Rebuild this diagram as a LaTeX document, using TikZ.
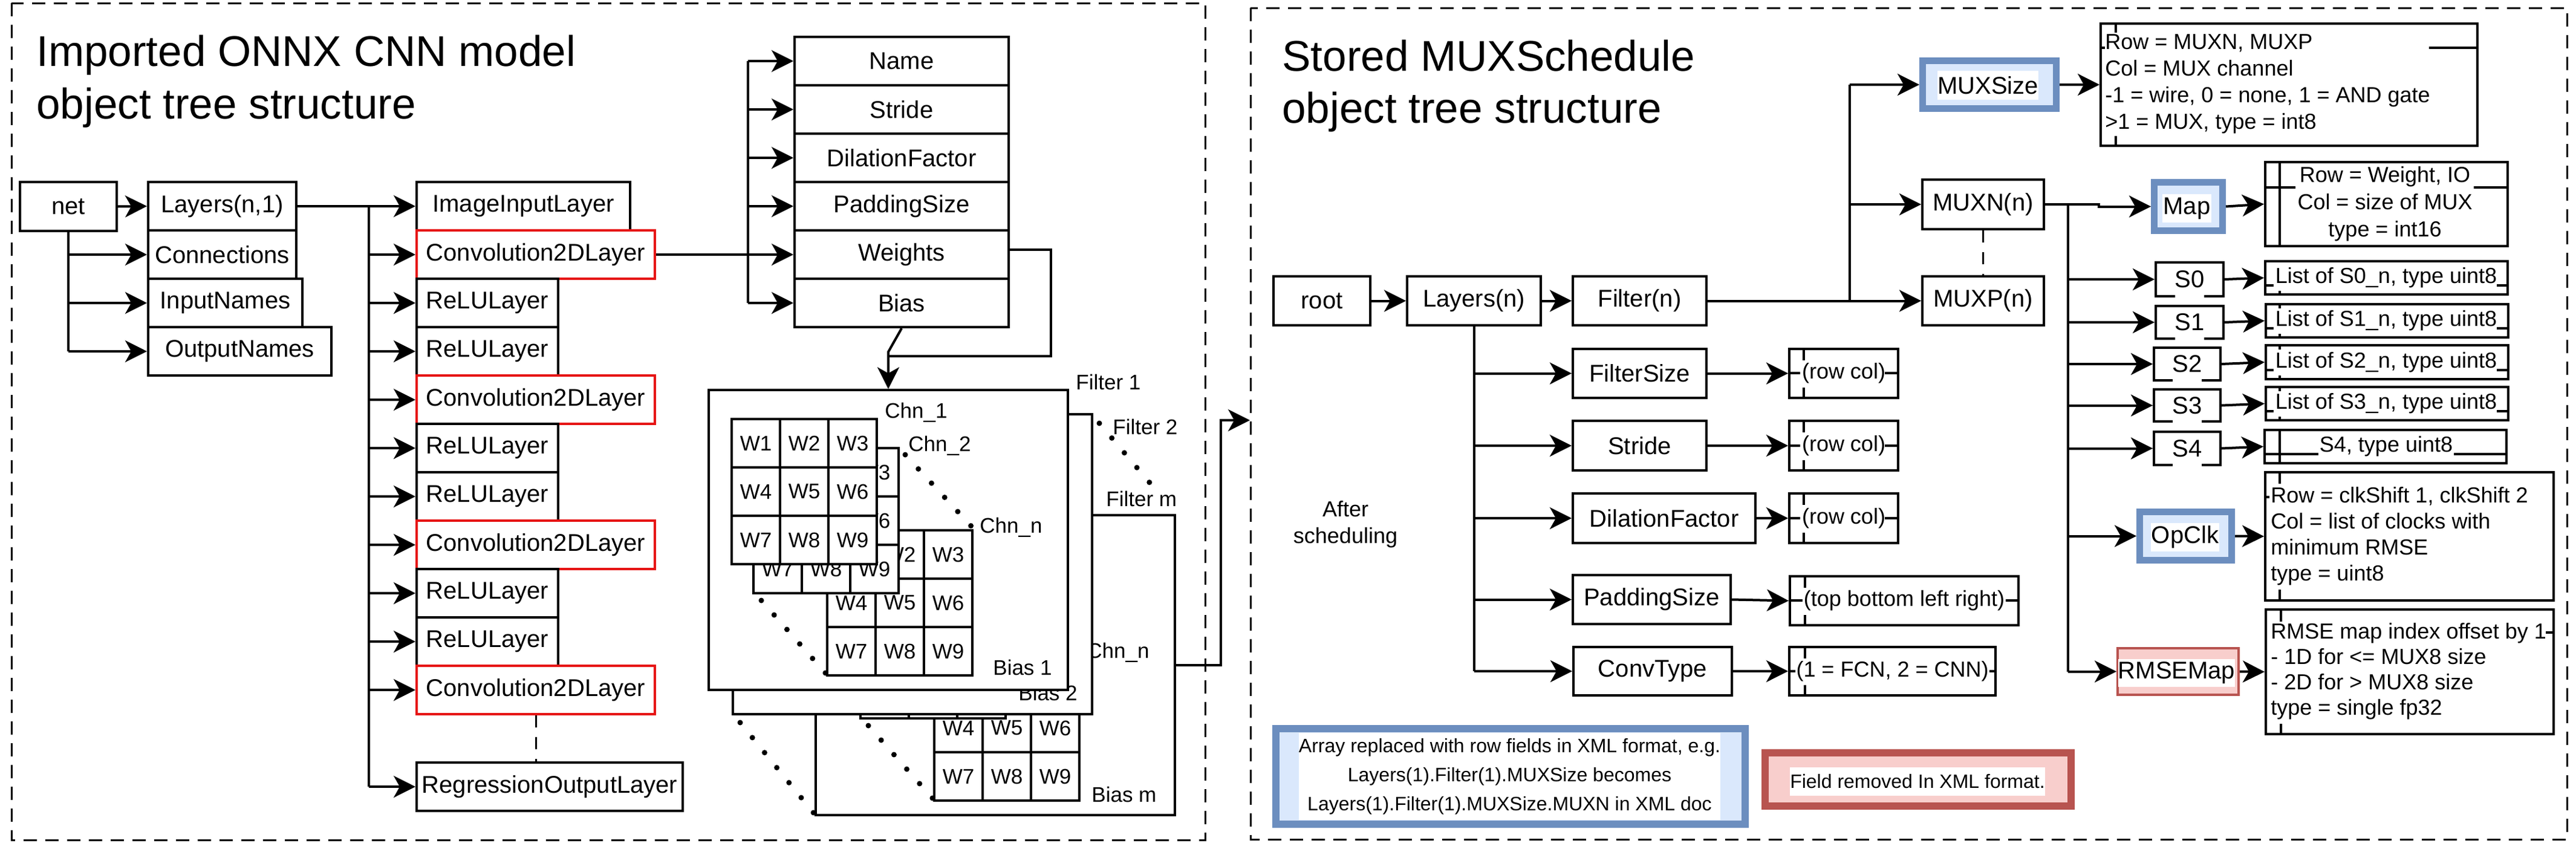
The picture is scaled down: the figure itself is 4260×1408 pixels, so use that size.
\documentclass[tikz,border=0pt]{standalone}
\usepackage{fontspec}
\setmainfont{Liberation Sans}
\usetikzlibrary{arrows.meta,calc}
\definecolor{convred}{RGB}{230,20,20}
\definecolor{bblue}{HTML}{6C8EBF}
\definecolor{lblue}{HTML}{DAE8FC}
\definecolor{rborder}{HTML}{B85450}
\definecolor{rfill}{HTML}{F8CECC}
\newcommand{\myfs}[2]{\fontsize{#1}{#2}\selectfont}
\newcommand{\bx}[7][]{%
  \pgfmathsetmacro\bxw{(#5-#3)*0.5}%
  \pgfmathsetmacro\bxh{(#6-#4)*0.5}%
  \node[box,#1,minimum width=\bxw pt,minimum height=\bxh pt] (#2) at ({(#3+#5)/2},{(#4+#6)/2}) {#7};}
\newcommand{\wgrid}[3]{%
  \foreach \r in {0,1,2}{%
    \foreach \c in {0,1,2}{%
      \pgfmathtruncatemacro{\wn}{3*\r+\c+1}%
      \node[cell] (#1\r\c) at ({#2+40+80*\c},{#3+40+80*\r}) {W\wn};
    }%
  }%
}
\newcommand{\filterbody}[3]{%
  \node[fbox] (box) at (297,248) {};
  \wgrid{gn}{196}{232}
  \wgrid{gb}{74}{96}
  \wgrid{ga}{38}{48}
  \node[lbl] (c1) at (291,37) {Chn\_1};
  \node[lbl] (c2) at (330,92) {Chn\_2};
  \node[lbl] (cn) at (448,227) {Chn\_n};
  \node[lbl] (bias) at (#2,#3) {#1};
  \draw[dots] (325,107) -- (434,225);
  \draw[dots] (87,348) -- (193,468);
}
\tikzset{
  box/.style={draw, line width=2pt, fill=white, inner sep=0pt, font=\myfs{20}{24}},
  redb/.style={draw=convred},
  fbox/.style={draw, line width=1.7pt, fill=white, inner sep=0pt, minimum width=297pt, minimum height=248pt},
  cell/.style={draw, line width=1.6pt, fill=white, inner sep=0pt, minimum size=40pt, font=\myfs{17.5}{21}},
  lbl/.style={inner sep=0pt, anchor=west, font=\myfs{17.5}{21}},
  txt/.style={inner sep=0pt, font=\myfs{18}{22}},
  conn/.style={line width=2pt},
  arr/.style={line width=2pt, -{Stealth[length=18pt,width=18pt,inset=5pt]}},
  dashbox/.style={line width=1.5pt, dash pattern=on 11pt off 7pt},
  dashln/.style={line width=1.5pt, dash pattern=on 10pt off 8pt},
  dots/.style={line width=4.5pt, line cap=round, dash pattern=on 0pt off 16pt},
  art/.style={line width=2pt},
  blueb/.style={draw=bblue, fill=lblue, line width=5.5pt, inner sep=0pt},
  redf/.style={draw=rborder, fill=rfill, inner sep=0pt},
  wtxt/.style={fill=white, inner sep=0pt, font=\myfs{20}{24}},
  ttl/.style={anchor=base west, inner sep=0pt, font=\myfs{35.5}{43}},
}
\begin{document}
\begin{tikzpicture}[x=0.5pt,y=-0.5pt]
\useasboundingbox (0,0) rectangle (4260,1408);
\fill[white] (0,0) rectangle (4260,1408);
\draw[dashbox] (19,5) rectangle (1993,1389);
\draw[dashbox] (2068,13) rectangle (4245,1388);

% titles
\node[ttl] (t1a) at (60,109) {Imported ONNX CNN model};
\node[ttl] (t1b) at (60,196) {object tree structure};
\node[ttl] (t2a) at (2120,117) {Stored MUXSchedule};
\node[ttl] (t2b) at (2120,203) {object tree structure};

% ---------- left panel ----------
\bx{net}{33}{301}{193}{382}{net}
\bx{layers}{245}{301}{490}{381}{Layers(n,1)}
\bx{conns}{245}{381}{490}{461}{Connections}
\bx{inames}{245}{461}{500}{541}{InputNames}
\bx{onames}{245}{541}{548}{621}{OutputNames}

\bx{L1}{689}{301}{1042}{381}{ImageInputLayer}
\bx[redb]{L2}{689}{381}{1083}{461}{Convolution2DLayer}
\bx{L3}{689}{461}{923}{541}{ReLULayer}
\bx{L4}{689}{541}{923}{621}{ReLULayer}
\bx[redb]{L5}{689}{621}{1083}{701}{Convolution2DLayer}
\bx{L6}{689}{701}{923}{781}{ReLULayer}
\bx{L7}{689}{781}{923}{861}{ReLULayer}
\bx[redb]{L8}{689}{861}{1083}{941}{Convolution2DLayer}
\bx{L9}{689}{941}{923}{1021}{ReLULayer}
\bx{L10}{689}{1021}{923}{1101}{ReLULayer}
\bx[redb]{L11}{689}{1101}{1083}{1181}{Convolution2DLayer}
\bx{reg}{689}{1261}{1129}{1341}{RegressionOutputLayer}

\bx{fname}{1314}{61}{1668}{141}{Name}
\bx{fstride}{1314}{141}{1668}{221}{Stride}
\bx{fdil}{1314}{221}{1668}{301}{DilationFactor}
\bx{fpad}{1314}{301}{1668}{381}{PaddingSize}
\bx{fwts}{1314}{381}{1668}{461}{Weights}
\bx{fbias}{1314}{461}{1668}{541}{Bias}

\draw[arr] (net.east) -- (layers.west);
\coordinate (ntr) at (113,0);
\draw[conn] (net.south) -- (ntr |- onames.west);
\foreach \nA in {conns,inames,onames} \draw[arr] (ntr |- \nA.west) -- (\nA.west);

\coordinate (ltr) at (610,0);
\draw[arr] (layers.east) -- (L1.west);
\draw[conn] (ltr |- L1.west) -- (ltr |- reg.west);
\foreach \nA in {L2,L3,L4,L5,L6,L7,L8,L9,L10,L11,reg} \draw[arr] (ltr |- \nA.west) -- (\nA.west);
\draw[dashln] (L11.south) -- (L11.south |- reg.north);

\coordinate (ftr) at (1237,0);
\draw[conn] (ftr |- fname.west) -- (ftr |- fbias.west);
\foreach \nA in {fname,fstride,fdil,fpad,fbias} \draw[arr] (ftr |- \nA.west) -- (\nA.west);
\draw[arr] (L2.east) -- (fwts.west);

% filters (back to front)
\begin{scope}[shift={(1349,852)}, name prefix=fm-]
  \filterbody{Bias m}{456}{462}
\end{scope}
\begin{scope}[shift={(1212,685)}, name prefix=f2-]
  \node[fbox] (box) at (297,248) {};
  \node[lbl] (bias) at (472,461) {Bias 2};
\end{scope}
\begin{scope}[shift={(1172,645)}, name prefix=f1-]
  \filterbody{Bias 1}{470}{459}
\end{scope}
\draw[dots] (1818,700) -- (1901,798);
\draw[dots] (1224,1195) -- (1346,1345);
\node[lbl] (lf1) at (1779,632) {Filter 1};
\node[lbl] (lf2) at (1840,706) {Filter 2};
\node[lbl] (lfm) at (1829,825) {Filter m};

\draw[conn] ($(fwts.east)+(0,-8)$) -| (1738,589) -- (1469,589);
\draw[arr] (fbias.south) -- (1469,582) -- (f1-box.north);
\coordinate (rpin) at (2067,695);
\draw[arr] (fm-box.east) -- (2019,1100) |- (rpin);

% ---------- right panel ----------
\bx{root}{2106}{457}{2266}{538}{root}
\bx{layersn}{2327}{457}{2548}{538}{Layers(n)}
\bx{filtern}{2601}{457}{2822}{538}{Filter(n)}
\bx{filtersize}{2601}{577}{2822}{658}{FilterSize}
\bx{stride}{2601}{696}{2822}{778}{Stride}
\bx{dilation}{2601}{816}{2903}{898}{DilationFactor}
\bx{padding}{2601}{951}{2862}{1032}{PaddingSize}
\bx{convtype}{2602}{1070}{2864}{1150}{ConvType}

\bx{rc1}{2959}{577}{3139}{658}{}
\bx{rc2}{2959}{696}{3139}{778}{}
\bx{rc3}{2959}{816}{3139}{898}{}
\bx{padd}{2960}{953}{3338}{1034}{}
\bx{convd}{2959}{1070}{3300}{1150}{}

\bx{muxn}{3179}{297}{3380}{379}{MUXN(n)}
\bx{muxp}{3179}{457}{3380}{538}{MUXP(n)}

\bx{s0}{3565}{434}{3677}{490}{S0}
\bx{s1}{3565}{506}{3677}{560}{S1}
\bx{s2}{3562}{575}{3672}{629}{S2}
\bx{s3}{3562}{644}{3672}{697}{S3}
\bx{s4}{3562}{714}{3672}{769}{S4}
\draw[white, line width=2.4pt] (3597,490) -- (3645,490);
\draw[white, line width=2.4pt] (3597,560) -- (3645,560);
\draw[white, line width=2.4pt] (3593,629) -- (3641,629);
\draw[white, line width=2.4pt] (3593,697) -- (3641,697);
\draw[white, line width=2.4pt] (3593,769) -- (3641,769);

\bx{muxsd}{3474}{39}{4097}{241}{}
\bx{mapd}{3746}{268}{4147}{407}{}
\bx{s0d}{3746}{432}{4147}{487}{}
\bx{s1d}{3747}{503}{4148}{558}{}
\bx{s2d}{3747}{571}{4148}{627}{}
\bx{s3d}{3747}{640}{4148}{695}{}
\bx{s4d}{3745}{711}{4145}{766}{}
\bx{opd}{3746}{781}{4223}{993}{}
\bx{rmsed}{3747}{1008}{4223}{1214}{}

% artefact lines inside the description boxes
\draw[art] (2983,577) -- (2983,596) (2983,641) -- (2983,658) (2959,617) -- (2977,617) (3117,617) -- (3139,617);
\draw[art] (2983,696) -- (2983,715) (2983,761) -- (2983,778) (2959,737) -- (2977,737) (3117,737) -- (3139,737);
\draw[art] (2983,816) -- (2983,835) (2983,881) -- (2983,898) (2959,857) -- (2977,857) (3117,857) -- (3139,857);
\draw[art] (2985,953) -- (2985,972) (2985,1017) -- (2985,1034) (2960,993) -- (2981,993) (3317,993) -- (3338,993);
\draw[art] (2985,1070) -- (2985,1089) (2985,1133) -- (2985,1150) (2959,1110) -- (2969,1110) (3290,1110) -- (3300,1110);
\draw[art] (3499,39) -- (3499,54) (3499,225) -- (3499,241) (3474,79) -- (3481,79) (4017,79) -- (4097,79);
\draw[art] (3770,268) -- (3770,407) (3746,310) -- (3796,310) (4091,310) -- (4147,310);
\draw[art] (3770,481) -- (3770,487) (3746,472) -- (3760,472) (4129,472) -- (4147,472);
\draw[art] (3770,503) -- (3770,510) (3770,552) -- (3770,558) (3747,543) -- (3760,543) (4129,543) -- (4148,543);
\draw[art] (3770,571) -- (3770,578) (3770,621) -- (3770,627) (3747,612) -- (3760,612) (4129,612) -- (4148,612);
\draw[art] (3770,640) -- (3770,647) (3770,689) -- (3770,695) (3747,680) -- (3760,680) (4129,680) -- (4148,680);
\draw[art] (3770,711) -- (3770,766) (3745,751) -- (3834,751) (4058,751) -- (4145,751);
\draw[art] (3770,781) -- (3770,800) (3770,975) -- (3770,993) (3746,822) -- (3753,822);
\draw[art] (3772,1008) -- (3772,1028) (3772,1197) -- (3772,1214) (4210,1046) -- (4223,1046);

% description texts
\node[txt] (rc1t) at (rc1) {(row col)};
\node[txt] (rc2t) at (rc2) {(row col)};
\node[txt] (rc3t) at (rc3) {(row col)};
\node[txt] (paddt) at (padd) {(top bottom left right)};
\node[txt] (convdt) at (convd) {(1 = FCN, 2 = CNN)};
\node[txt, anchor=west, align=left] (muxsdt) at (3481,139) {Row = MUXN, MUXP\\Col = MUX channel\\-1 = wire, 0 = none, 1 = AND gate\\>1 = MUX, type = int8};
\node[txt, align=center, font=\myfs{18}{22.5}] (mapdt) at (3944,337) {Row = Weight, IO\\Col = size of MUX\\type = int16};
\node[txt] (s0dt) at (3946,459) {List of S0\_n, type uint8};
\node[txt] (s1dt) at (3946,530) {List of S1\_n, type uint8};
\node[txt] (s2dt) at (3946,599) {List of S2\_n, type uint8};
\node[txt] (s3dt) at (3946,667) {List of S3\_n, type uint8};
\node[txt] (s4dt) at (3946,738) {S4, type uint8};
\node[txt, anchor=west, align=left, font=\myfs{18}{21.5}] (opdt) at (3755,887) {Row = clkShift 1, clkShift 2\\Col = list of clocks with\\minimum RMSE\\type = uint8};
\node[txt, anchor=west, align=left, font=\myfs{18}{21}] (rmsedt) at (3755,1110) {RMSE map index offset by 1\\- 1D for <= MUX8 size\\- 2D for > MUX8 size\\type = single fp32};

% coloured field boxes
\node[blueb, minimum width=110.5pt, minimum height=39.5pt] (muxsize) at (3290,140) {};
\node[wtxt, minimum width=82.5pt, minimum height=24pt] (muxsizet) at (3287.5,141) {MUXSize};
\node[blueb, minimum width=56.5pt, minimum height=40pt] (map) at (3619,341.5) {};
\node[wtxt, minimum width=40.5pt, minimum height=23.5pt] (mapt) at (3616.5,344.5) {Map};
\node[blueb, minimum width=76pt, minimum height=40pt] (opclk) at (3614.5,886.5) {};
\node[wtxt, minimum width=56.5pt, minimum height=23.5pt] (opclkt) at (3613.5,888.5) {OpClk};
\node[redf, line width=2pt, minimum width=100pt, minimum height=38.5pt] (rmse) at (3602,1110.5) {};
\node[wtxt, minimum width=96.5pt, minimum height=23pt] (rmset) at (3599.5,1113) {RMSEMap};

\node[txt, align=center] (after) at (2225,867) {After\\scheduling};

% legends
\node[blueb, line width=6pt, minimum width=388pt, minimum height=79pt] (legb) at (2498,1284) {};
\node[fill=white, inner sep=0pt, minimum width=348.5pt, minimum height=72pt, align=center, font=\myfs{16}{24}] (legbt) at (2496.5,1284) {Array replaced with row fields in XML format, e.g.\\Layers(1).Filter(1).MUXSize becomes\\Layers(1).Filter(1).MUXSize.MUXN in XML doc};
\node[redf, line width=6pt, minimum width=253pt, minimum height=44pt] (legr) at (3172,1289) {};
\node[fill=white, inner sep=0pt, minimum width=210pt, minimum height=23.5pt, font=\myfs{16}{19}] (legrt) at (3171,1292.5) {Field removed In XML format.};

% connectors right
\draw[arr] (root.east) -- (layersn.west);
\draw[arr] (layersn.east) -- (filtern.west);
\coordinate (ftrk) at (3059,0);
\draw[conn] (filtern.east) -- (ftrk |- filtern.east);
\draw[conn] (ftrk |- muxsize.west) -- (ftrk |- muxp.west);
\foreach \nA in {muxsize,muxn,muxp} \draw[arr] (ftrk |- \nA.west) -- (\nA.west);
\draw[arr] (muxsize.east) -- (muxsd.west);
\draw[dashln] (muxn.south) -- (muxp.north);
\draw[conn] (layersn.south) -- (layersn.south |- convtype.west);
\foreach \nA/\nB in {filtersize/rc1,stride/rc2,dilation/rc3,padding/padd,convtype/convd}{%
  \draw[arr] (layersn.south |- \nA.west) -- (\nA.west);
  \draw[arr] (\nA.east) -- (\nB.west);}
\coordinate (mtrk) at (3420,0);
\draw[arr] (muxn.east) -- (3471,338) |- (map.west);
\draw[conn] (mtrk |- muxn.east) -- (mtrk |- rmse.west);
\foreach \nA/\nB in {s0/s0d,s1/s1d,s2/s2d,s3/s3d,s4/s4d,opclk/opd,rmse/rmsed}{%
  \draw[arr] (mtrk |- \nA.west) -- (\nA.west);
  \draw[arr] (\nA.east) -- (\nB.west);}
\draw[arr] (map.east) -- (mapd.west);
\end{tikzpicture}
\end{document}
